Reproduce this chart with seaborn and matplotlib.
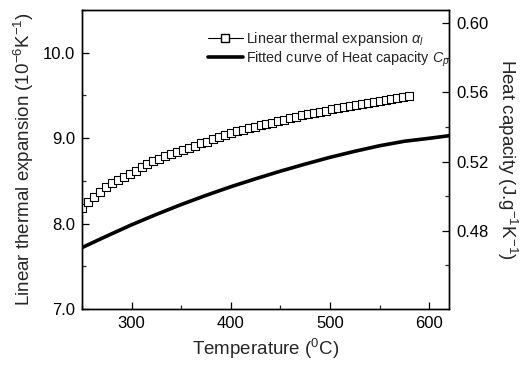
import matplotlib
matplotlib.use("Agg")
import matplotlib.pyplot as plt
from matplotlib.lines import Line2D
from matplotlib.ticker import MultipleLocator, FixedLocator, FormatStrFormatter
import seaborn as sns
import pandas as pd

# Linear thermal expansion (left axis, 10^-6 K^-1)
temp_alpha = [250, 256, 262, 268, 274, 280, 286, 292, 298, 304, 310, 316, 322, 328,
              334, 340, 346, 352, 358, 364, 370, 376, 382, 388, 394, 400, 406, 412,
              418, 424, 430, 436, 442, 448, 454, 460, 466, 472, 478, 484, 490, 496,
              502, 508, 514, 520, 526, 532, 538, 544, 550, 556, 562, 568, 574, 580]
alpha_values = [8.18, 8.25, 8.31, 8.37, 8.43, 8.47, 8.51, 8.55, 8.58, 8.62, 8.66, 8.70,
                8.73, 8.76, 8.79, 8.82, 8.84, 8.86, 8.89, 8.91, 8.94, 8.96, 8.99, 9.01,
                9.04, 9.06, 9.08, 9.10, 9.12, 9.13, 9.15, 9.17, 9.18, 9.20, 9.21, 9.23,
                9.25, 9.27, 9.28, 9.30, 9.31, 9.32, 9.34, 9.35, 9.37, 9.38, 9.39, 9.40,
                9.41, 9.42, 9.44, 9.45, 9.46, 9.47, 9.48, 9.49]

# Fitted heat capacity curve (right axis, J g^-1 K^-1)
temp_cp = [250, 275, 300, 325, 350, 375, 400, 425, 450, 475, 500, 525, 550, 575, 600, 620]
cp_values = [0.4703, 0.4770, 0.4835, 0.4895, 0.4952, 0.5005, 0.5055, 0.5101, 0.5145,
             0.5186, 0.5225, 0.5260, 0.5292, 0.5318, 0.5335, 0.5350]

right_major_ticks = [0.48, 0.52, 0.56, 0.60]
right_minor_ticks = [0.46, 0.50, 0.54, 0.58]

legend_labels = ["Linear thermal expansion $\\alpha_l$",
                 "Fitted curve of Heat capacity $C_p$"]

sns.set_style("ticks")
plt.rcParams['font.family'] = ['Liberation Sans', 'DejaVu Sans']
plt.rcParams['mathtext.fontset'] = 'custom'
plt.rcParams['mathtext.rm'] = 'Liberation Sans'
plt.rcParams['mathtext.it'] = 'Liberation Sans:italic'
plt.rcParams['mathtext.bf'] = 'Liberation Sans:bold'

df_a = pd.DataFrame({"T": temp_alpha, "a": alpha_values})
df_c = pd.DataFrame({"T": temp_cp, "c": cp_values})

fig = plt.figure(figsize=(5.22, 3.70), dpi=100)
ax = fig.add_axes([82/522, 61/370, 367/522, 299/370])
ax2 = ax.twinx()

sns.scatterplot(data=df_a, x="T", y="a", ax=ax, marker="s", s=32,
                facecolor="white", edgecolor="black", linewidth=0.8, zorder=3)
sns.lineplot(data=df_c, x="T", y="c", ax=ax2, color="black", linewidth=2.6)

ax.set_xlim(250, 620)
ax.set_ylim(7.0, 10.5)
ax2.set_ylim(0.4348, 0.6077)

ax.xaxis.set_major_locator(MultipleLocator(100))
ax.xaxis.set_minor_locator(MultipleLocator(50))
ax.yaxis.set_major_locator(MultipleLocator(1.0))
ax.yaxis.set_minor_locator(MultipleLocator(0.5))
ax2.yaxis.set_major_locator(FixedLocator(right_major_ticks))
ax2.yaxis.set_minor_locator(FixedLocator(right_minor_ticks))
ax.yaxis.set_major_formatter(FormatStrFormatter("%.1f"))
ax2.yaxis.set_major_formatter(FormatStrFormatter("%.2f"))

for a in (ax, ax2):
    for sp in a.spines.values():
        sp.set_visible(True)
        sp.set_linewidth(1.0)
        sp.set_color("black")
ax.tick_params(axis="both", which="major", direction="in", length=5, width=0.9,
               labelsize=12, colors="black", pad=5)
ax.tick_params(axis="both", which="minor", direction="in", length=3, width=0.9)
ax.tick_params(axis="x", top=False, which="both")
ax.tick_params(axis="y", right=False, which="both")
ax2.tick_params(axis="y", which="major", direction="in", length=5, width=0.9,
                labelsize=12, colors="black", pad=5)
ax2.tick_params(axis="y", which="minor", direction="in", length=3, width=0.9)

ax.set_xlabel("Temperature ($^0$C)", fontsize=13.5, labelpad=4)
ax.set_ylabel("Linear thermal expansion (10$^{-6}$K$^{-1}$)", fontsize=13.5, labelpad=5)
ax2.set_ylabel("Heat capacity (J.g$^{-1}$K$^{-1}$)", fontsize=13.5, rotation=270,
               labelpad=22)

handles = [Line2D([], [], color="black", lw=0.8, marker="s", markersize=5.5,
                  markerfacecolor="white", markeredgecolor="black"),
           Line2D([], [], color="black", lw=2.6)]
leg = ax.legend(handles, legend_labels, loc="upper left",
                bbox_to_anchor=((208 - 82) / 367, (309 - 30) / 299),
                frameon=False, fontsize=10.4, handlelength=2.4, handletextpad=0.2,
                labelspacing=0.1, borderpad=0, borderaxespad=0)

fig.savefig("out.png", dpi=100)
